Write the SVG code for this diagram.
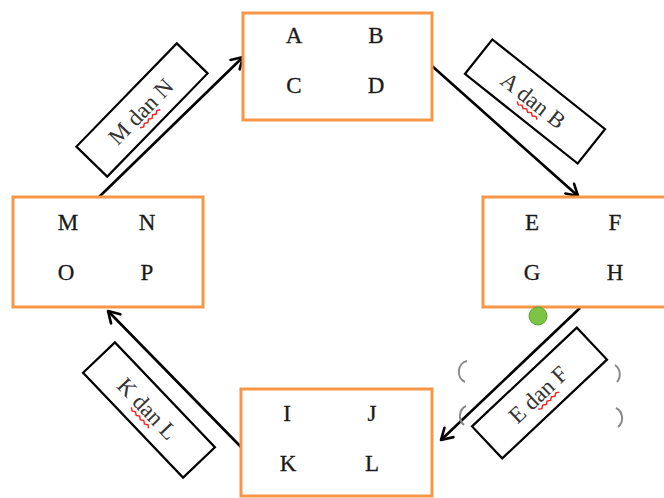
<svg xmlns="http://www.w3.org/2000/svg" width="664" height="498" viewBox="0 0 664 498">
  <defs>
    <style>
      .box { fill: #ffffff; stroke: #F79646; stroke-width: 3; }
      .letter { font-family: "Liberation Serif", "Times New Roman", serif; font-size: 23px; fill: #1a1a1a; stroke: #1a1a1a; stroke-width: 0.3; text-anchor: middle; }
      .tag { fill: #ffffff; stroke: #000000; stroke-width: 2.2; }
      .tagtext { font-family: "Liberation Serif", "Times New Roman", serif; font-size: 23px; fill: #333333; text-anchor: middle; }
      .squiggle { fill: none; stroke: #ff1a1a; stroke-width: 1.4; }
      .link { fill: none; stroke: #000000; stroke-width: 2.6; marker-end: url(#head); }
      .handle { fill: none; stroke: #8a8a8a; stroke-width: 2; }
    </style>
    <marker id="head" markerUnits="userSpaceOnUse" markerWidth="16" markerHeight="16" viewBox="0 0 16 16" refX="14" refY="8" orient="auto">
      <path d="M3,1.5 L14,8 L3,14.5" fill="none" stroke="#000000" stroke-width="2.6" stroke-linecap="round" stroke-linejoin="round"/>
    </marker>
  </defs>

  <rect width="664" height="498" fill="#ffffff"/>

  <!-- connectors -->
  <g id="connectors">
    <line class="link" x1="98" y1="198" x2="243" y2="57"/>
    <line class="link" x1="432" y1="66" x2="578" y2="196"/>
    <line class="link" x1="580" y1="308" x2="441" y2="440"/>
    <line class="link" x1="241" y1="447" x2="108" y2="311"/>
  </g>

  <!-- boxes -->
  <g id="node-abcd">
    <rect class="box" x="243" y="13" width="189" height="107"/>
    <text class="letter" x="294" y="43">A</text>
    <text class="letter" x="376" y="43">B</text>
    <text class="letter" x="294" y="93">C</text>
    <text class="letter" x="376" y="93">D</text>
  </g>

  <g id="node-efgh">
    <rect class="box" x="483" y="197" width="190" height="110"/>
    <text class="letter" x="532" y="230">E</text>
    <text class="letter" x="615" y="230">F</text>
    <text class="letter" x="532" y="280">G</text>
    <text class="letter" x="615" y="280">H</text>
  </g>

  <g id="node-mnop">
    <rect class="box" x="13" y="197" width="190" height="110"/>
    <text class="letter" x="68" y="230">M</text>
    <text class="letter" x="147" y="230">N</text>
    <text class="letter" x="66" y="280">O</text>
    <text class="letter" x="147" y="280">P</text>
  </g>

  <g id="node-ijkl">
    <rect class="box" x="241" y="389" width="191" height="107"/>
    <text class="letter" x="287" y="421">I</text>
    <text class="letter" x="372" y="421">J</text>
    <text class="letter" x="288" y="471">K</text>
    <text class="letter" x="372" y="471">L</text>
  </g>

  <!-- edge labels -->
  <g id="label-mn" transform="translate(142,110) rotate(-45.8)">
    <rect class="tag" x="-72" y="-21.5" width="144" height="43"/>
    <text class="tagtext" x="-2" y="8">M dan N</text>
    <path class="squiggle" d="M-14,11 l3,2 l3,-2 l3,2 l3,-2 l3,2 l3,-2 l3,2 l3,-2 l3,2"/>
  </g>

  <g id="label-ab" transform="translate(535,101.5) rotate(38.5)">
    <rect class="tag" x="-72" y="-22" width="144" height="44"/>
    <text class="tagtext" x="-2" y="8">A dan B</text>
    <path class="squiggle" d="M-14,11 l3,2 l3,-2 l3,2 l3,-2 l3,2 l3,-2 l3,2 l3,-2 l3,2"/>
  </g>

  <g id="label-ef" transform="translate(539.5,393) rotate(-43.3)">
    <rect class="tag" x="-72" y="-22" width="144" height="44"/>
    <text class="tagtext" x="-2" y="8">E dan F</text>
    <path class="squiggle" d="M-12,11 l3,2 l3,-2 l3,2 l3,-2 l3,2 l3,-2 l3,2 l3,-2 l3,2"/>
  </g>

  <g id="label-kl" transform="translate(149,410) rotate(46.4)">
    <rect class="tag" x="-72.5" y="-22" width="145" height="44"/>
    <text class="tagtext" x="-2" y="8">K dan L</text>
    <path class="squiggle" d="M-14,11 l3,2 l3,-2 l3,2 l3,-2 l3,2 l3,-2 l3,2 l3,-2 l3,2"/>
  </g>

  <!-- selection handles around the E dan F label -->
  <g id="selection">
    <circle cx="538" cy="316" r="9" fill="#7CC444" stroke="#5e9e30" stroke-width="1"/>
    <path class="handle" d="M467,361 A10,11 0 0 0 465,382"/>
    <path class="handle" d="M466,406 A10,11 0 0 0 464,425"/>
    <path class="handle" d="M615,365 A10,11 0 0 1 617,382"/>
    <path class="handle" d="M616,408 A10,11 0 0 1 618,427"/>
  </g>
</svg>
